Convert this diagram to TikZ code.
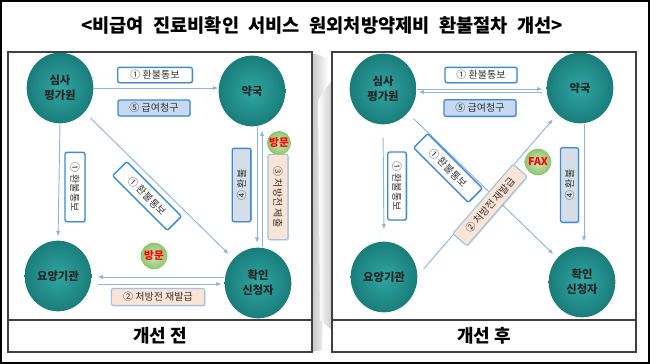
\documentclass[tikz,border=0pt]{standalone}
\usepackage{fontspec}
\setmainfont{Noto Sans CJK KR}
\usetikzlibrary{arrows.meta,shapes.geometric,shadows}
\definecolor{teal1}{HTML}{2FA6A3}
\definecolor{teal2}{HTML}{1A7D7A}
\definecolor{arrowblue}{HTML}{8DB4E2}
\definecolor{boxblue}{HTML}{3A8DD0}
\definecolor{lightbluefill}{HTML}{C6D9F1}
\definecolor{graybluefill}{HTML}{D5DDE8}
\definecolor{peach}{HTML}{FBE3D6}
\definecolor{peachborder}{HTML}{9CC2E5}
\definecolor{green1}{HTML}{CDE6B8}
\definecolor{green2}{HTML}{8FC46E}
\begin{document}
\begin{tikzpicture}[x=0.75pt,y=-0.75pt,
  org/.style={ellipse, minimum width=50pt, minimum height=53pt, inner sep=0pt, shade, inner color=teal1, outer color=teal2, font=\fontsize{8.5}{11}\selectfont\bfseries, text=black!85, align=center},
  arr/.style={draw=arrowblue, line width=0.7pt, -{Latex[length=4pt,width=3.2pt]}},
  lbl/.style={draw=boxblue, line width=1pt, rounded corners=1.5pt, fill=white, inner sep=0pt, font=\fontsize{7.5}{9}\selectfont, text=black!80, drop shadow={shadow xshift=0.7pt,shadow yshift=-0.7pt,opacity=0.3}},
  lblb/.style={lbl, fill=lightbluefill},
  lblg/.style={lbl, fill=graybluefill},
  lblp/.style={lbl, fill=peach, draw=peachborder, line width=0.8pt},
  visit/.style={circle, inner sep=0pt, shade, inner color=green1, outer color=green2, font=\fontsize{8}{9}\selectfont\bfseries, text=red},
  panel/.style={draw=black!75, line width=0.8pt},
  captxt/.style={font=\fontsize{13.5}{15}\selectfont\bfseries},
  titletxt/.style={font=\fontsize{14}{16}\selectfont\bfseries}
]
\useasboundingbox (0,0) rectangle (650,364);
\fill[white] (0,0) rectangle (650,364);
% page-curl shadows
\shade[left color=black!22, right color=white] (312,53) -- (328,58) -- (322,350) -- (312,352) -- cycle;
\shade[left color=white, right color=black!20] (318,100) -- (332,80) -- (332,330) -- (320,320) -- cycle;
% panels
\draw[panel, fill=white] (8,52) rectangle (312,352);
\draw[panel] (8,320) -- (312,320);
\draw[panel, fill=white] (332,52) rectangle (636,352);
\draw[panel] (332,320) -- (636,320);
\draw[black, line width=1.2pt] (1,1) rectangle (649,363);

% title and captions
\node[titletxt] (title) at (322,25) {{\spaceskip=0.5em\relax <비급여 진료비확인 서비스 원외처방약제비 환불절차 개선>}};
\node[captxt] (capL) at (160,336) {개선 전};
\node[captxt] (capR) at (484,336) {개선 후};

% ---------- left panel ----------
\node[org] (A1) at (60,88) {심사\\평가원};
\node[org] (B1) at (252,91) {약국};
\node[org] (C1) at (58,276) {요양기관};
\node[org] (D1) at (258,283) {확인\\신청자};

\draw[arr] (A1.east) -- (A1.east -| B1.west);
\draw[arr, shorten >=3pt] (A1.south) -- (C1.north);
\draw[arr, shorten <=6pt, shorten >=5pt] (A1) -- (D1);
\draw[arr, shorten >=3.5pt] ([xshift=3.75pt]B1.south) -- ([xshift=-0.75pt]D1.north);
\draw[arr, shorten >=3pt] ([xshift=3pt]D1.north) -- ([xshift=7.5pt]B1.south);
\draw[arr, shorten >=4.5pt] ([yshift=4.5pt]D1.west) -- ([yshift=-0.75pt]C1.east);
\draw[arr, shorten <=4.5pt, shorten >=2pt] ([yshift=-6pt]C1.east) -- ([yshift=-0.75pt]D1.west);

\node[lbl, minimum width=56pt, minimum height=11.5pt] (l1) at (155,75) {① 환불통보};
\node[lblb, minimum width=54pt, minimum height=12pt] (l5) at (154,108) {⑤ 급여청구};
\node[lbl, rotate=-90, minimum width=52pt, minimum height=15pt] (l1v) at (75,187) {① 환불통보};
\node[lbl, rotate=-45, minimum width=58pt, minimum height=15pt] (l1d) at (147,196) {① 환불통보};
\node[lblg, rotate=90, minimum width=55pt, minimum height=14pt] (l4) at (241.5,185) {④ 환불};
\node[lblp, rotate=-90, minimum width=64pt, minimum height=15pt] (l3) at (278,197) {③ 처방전 제출};
\node[visit, minimum size=18pt] (v1) at (279,143) {방문};
\node[visit, minimum size=20pt] (v2) at (154,256) {방문};
\node[lblp, minimum width=70pt, minimum height=12.75pt] (l2) at (158,297) {② 처방전 재발급};

% ---------- right panel ----------
\node[org] (A2) at (383,89) {심사\\평가원};
\node[org] (B2) at (580,88) {약국};
\node[org] (C2) at (384,277) {요양기관};
\node[org] (D2) at (582,282) {확인\\신청자};

\draw[arr, shorten >=3pt] (A2.east) -- (A2.east -| B2.west);
\draw[arr, shorten <=3pt, shorten >=1.5pt] ([yshift=-3pt]B2.west) -- ([yshift=-3pt]B2.west -| A2.east);
\draw[arr, shorten <=10pt, shorten >=9pt] (A2.south) -- (C2.north);
\draw[arr, shorten <=6pt, shorten >=4pt] (A2) -- (D2);
\draw[arr, shorten >=5pt] ([xshift=4.5pt,yshift=6pt]C2.east) -- (B2);
\draw[arr, shorten >=3.5pt] ([xshift=3pt]B2.south) -- ([xshift=1.5pt]D2.north);

\node[lbl, minimum width=54pt, minimum height=11.5pt] (r1) at (481,75) {① 환불통보};
\node[lblb, minimum width=54pt, minimum height=12.5pt] (r5) at (480,108) {⑤ 급여청구};
\node[lbl, rotate=-90, minimum width=51pt, minimum height=14pt] (r1v) at (397,186) {① 환불통보};
\node[lbl, rotate=-45, minimum width=58pt, minimum height=15pt] (r1d) at (448,168) {① 환불통보};
\node[lblp, rotate=49, minimum width=69pt, minimum height=14pt] (r2) at (490,205) {② 처방전 재발급};
\node[visit, minimum size=20pt] (fax) at (538,162) {FAX};
\node[lblg, rotate=90, minimum width=56pt, minimum height=13.5pt] (r4) at (569.5,185) {④ 환불};
\end{tikzpicture}
\end{document}
